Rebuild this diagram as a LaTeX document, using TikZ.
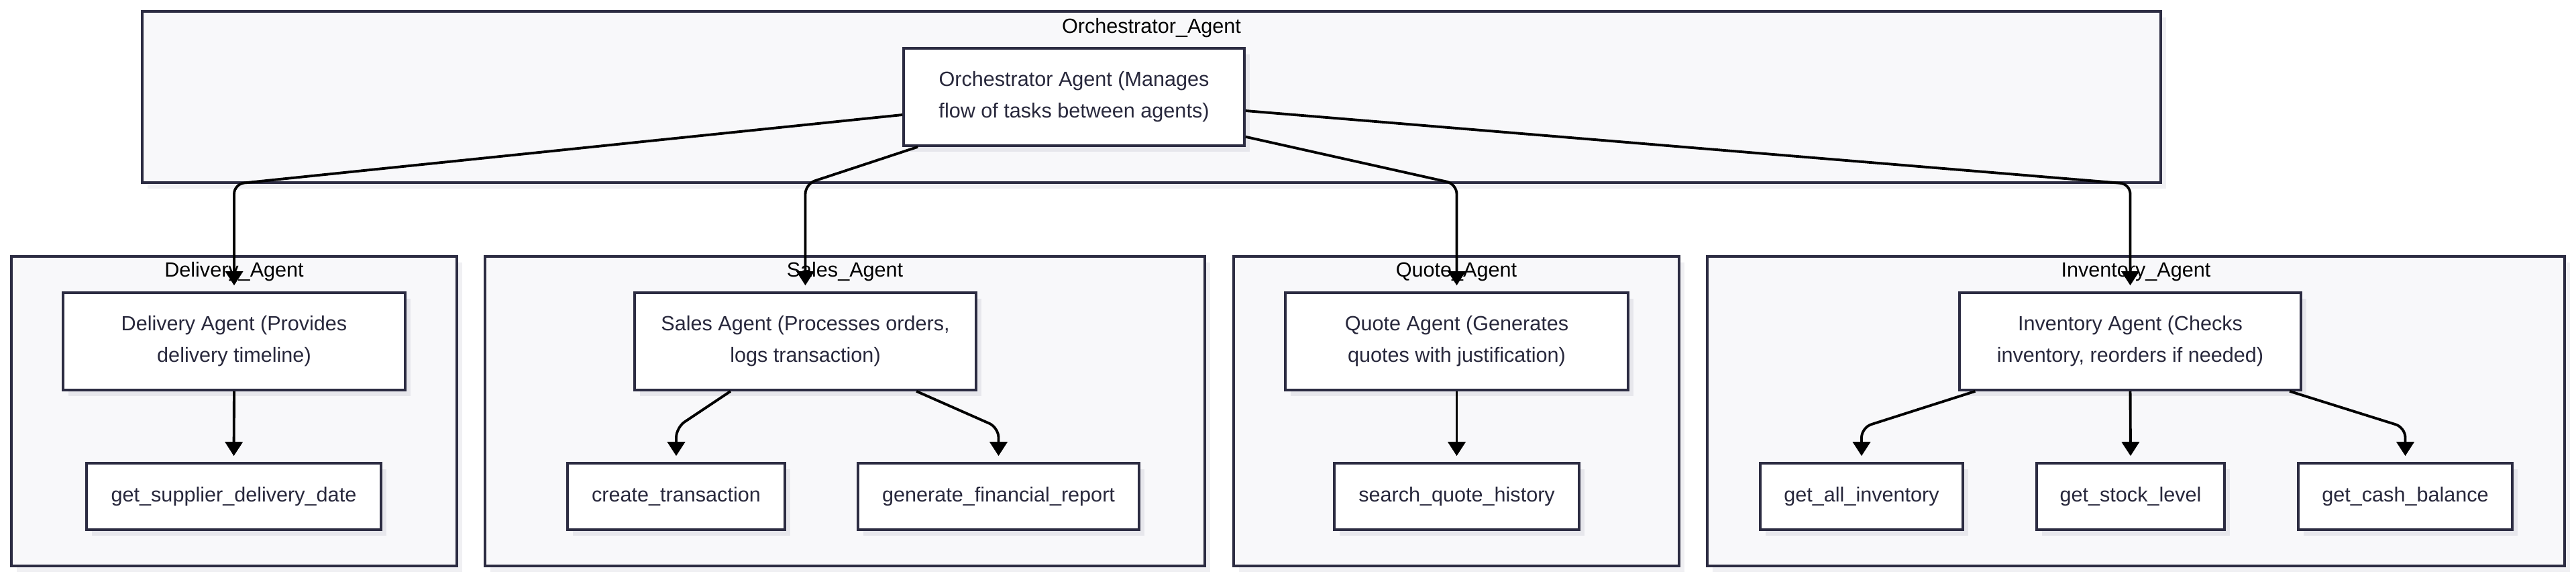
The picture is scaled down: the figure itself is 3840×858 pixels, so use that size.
\documentclass[tikz,border=0pt]{standalone}
\usepackage{fontspec}
\setmainfont{Liberation Sans}
\usetikzlibrary{arrows.meta,shadows,calc}

\definecolor{framecol}{RGB}{44,44,66}
\definecolor{textcol}{RGB}{40,40,60}
\definecolor{clusterfill}{RGB}{248,248,250}
\definecolor{clustershadow}{RGB}{240,240,243}
\definecolor{nodeshadow}{RGB}{231,231,236}

\begin{document}
\begin{tikzpicture}[x=0.01cm, y=-0.01cm,
  cluster/.style={draw=framecol, line width=1.1pt, fill=clusterfill, inner sep=0pt,
    general shadow={fill=clustershadow, shadow xshift=0.08cm, shadow yshift=-0.09cm}},
  clusterlabel/.style={text=black, font=\fontsize{8.7}{13.4}\selectfont},
  agent/.style={draw=framecol, line width=1pt, fill=white, text=textcol, align=center,
    minimum width=5.1cm, minimum height=1.45cm, inner sep=0pt,
    font=\fontsize{8.7}{13.4}\selectfont,
    general shadow={fill=nodeshadow, shadow xshift=0.08cm, shadow yshift=-0.09cm}},
  tool/.style={agent, minimum height=0.99cm},
  flow/.style={-{Triangle[length=0.21cm,width=0.26cm]}, line width=1.1pt,
    rounded corners=0.15cm, shorten >=0.09cm}]

  \useasboundingbox (0,0) rectangle (3840,858);

  % subgraphs
  \node[cluster, minimum width=30.07cm, minimum height=2.55cm] (orchbox) at (1716.5,144.5) {};
  \node[clusterlabel] (orchlabel) at (1716.5,42) {Orchestrator\_Agent};
  \node[cluster, minimum width=6.64cm, minimum height=4.61cm] (delivbox) at (349,612.5) {};
  \node[clusterlabel] (delivlabel) at (349,405) {Delivery\_Agent};
  \node[cluster, minimum width=10.73cm, minimum height=4.61cm] (salesbox) at (1259.5,612.5) {};
  \node[clusterlabel] (saleslabel) at (1259.5,405) {Sales\_Agent};
  \node[cluster, minimum width=6.64cm, minimum height=4.61cm] (quotebox) at (2171,612.5) {};
  \node[clusterlabel] (quotelabel) at (2171,405) {Quote\_Agent};
  \node[cluster, minimum width=12.78cm, minimum height=4.61cm] (invbox) at (3184,612.5) {};
  \node[clusterlabel] (invlabel) at (3184,405) {Inventory\_Agent};

  % agents
  \node[agent, minimum width=5.08cm] (orch) at (1601,144.5) {Orchestrator Agent (Manages\\flow of tasks between agents)};
  \node[agent] (deliv) at (349,508.5) {Delivery Agent (Provides\\delivery timeline)};
  \node[agent, minimum width=5.09cm] (sales) at (1200.5,508.5) {Sales Agent (Processes orders,\\logs transaction)};
  \node[agent, minimum width=5.11cm] (quote) at (2171.5,508.5) {Quote Agent (Generates\\quotes with justification)};
  \node[agent, minimum width=5.09cm] (inv) at (3175.5,508.5) {Inventory Agent (Checks\\inventory, reorders if needed)};

  % tools
  \node[tool, minimum width=4.39cm] (supdate) at (348.5,739.5) {get\_supplier\_delivery\_date};
  \node[tool, minimum width=3.24cm] (ctx) at (1008,739.5) {create\_transaction};
  \node[tool, minimum width=4.19cm] (gfr) at (1488.5,739.5) {generate\_financial\_report};
  \node[tool, minimum width=3.65cm] (sqh) at (2171.5,739.5) {search\_quote\_history};
  \node[tool, minimum width=3.02cm] (allinv) at (2775,739.5) {get\_all\_inventory};
  \node[tool, minimum width=2.80cm] (stock) at (3176,739.5) {get\_stock\_level};
  \node[tool, minimum width=3.19cm] (cash) at (3585.5,739.5) {get\_cash\_balance};

  % orchestrator to agents
  \draw[flow] ([yshift=-0.265cm]orch.west) -- (deliv.north |- orchbox.south) -- (deliv.north);
  \draw[flow] ([xshift=0.23cm]orch.south west) -- (sales.north |- orchbox.south) -- (sales.north);
  \draw[flow] ([yshift=0.15cm]orch.south east) -- (quote.north |- orchbox.south) -- (quote.north);
  \draw[flow] ([yshift=-0.205cm]orch.east) -- (inv.north |- orchbox.south) -- (inv.north);

  % agents to tools
  \draw[flow] (deliv.south) -- (supdate.north);
  \draw[flow] ([xshift=-1.115cm]sales.south) -- ($(ctx.north |- sales.south)+(0,54)$) -- (ctx.north);
  \draw[flow] ([xshift=1.655cm]sales.south) -- ($(gfr.north |- sales.south)+(0,54)$) -- (gfr.north);
  \draw[flow] (quote.south) -- (sqh.north);
  \draw[flow] ([xshift=-2.31cm]inv.south) -- ($(allinv.north |- inv.south)+(0,54)$) -- (allinv.north);
  \draw[flow] (inv.south) -- (stock.north);
  \draw[flow] ([xshift=2.375cm]inv.south) -- ($(cash.north |- inv.south)+(0,54)$) -- (cash.north);
\end{tikzpicture}
\end{document}
